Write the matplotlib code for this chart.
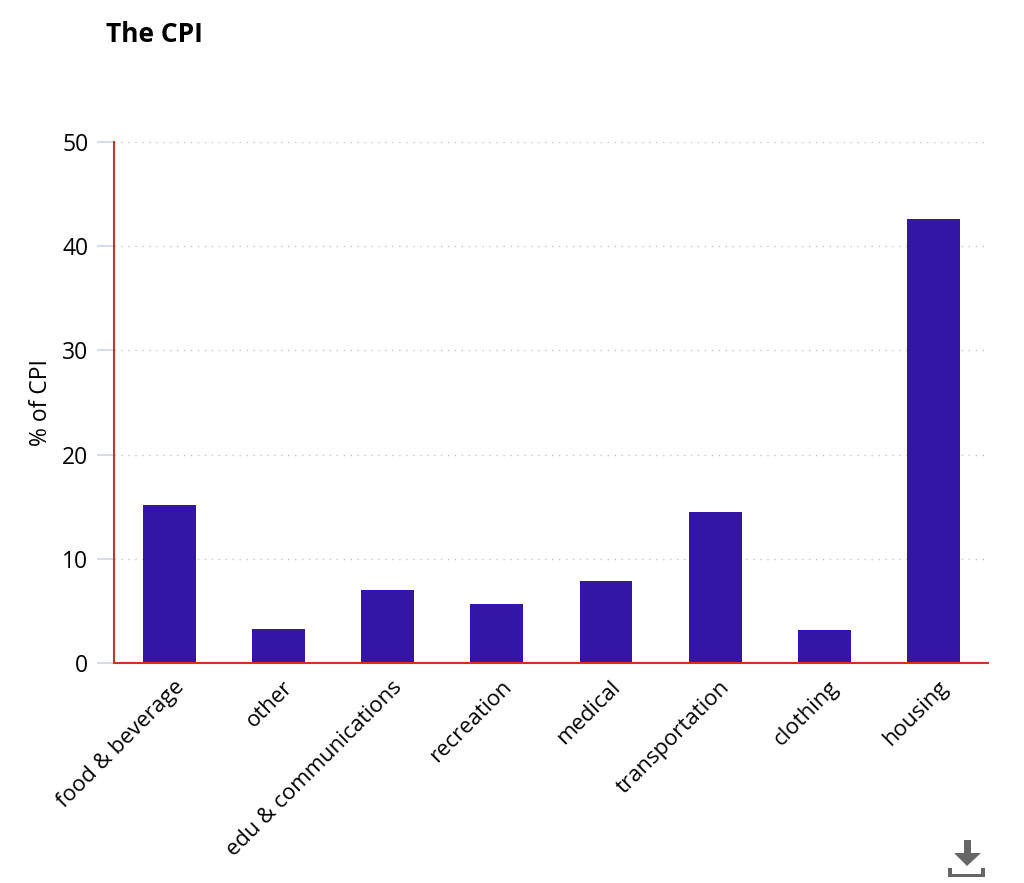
import matplotlib
matplotlib.use("Agg")
import matplotlib.pyplot as plt
from matplotlib.patches import Polygon
from matplotlib.transforms import ScaledTranslation

plt.rcParams["font.family"] = ["Open Sans", "DejaVu Sans"]

# 차트 데이터
categories = ["food & beverage", "other", "edu & communications", "recreation",
              "medical", "transportation", "clothing", "housing"]
cpi_share = [15.2, 3.3, 7.0, 5.7, 7.9, 14.5, 3.2, 42.6]
y_ticks = [0, 10, 20, 30, 40, 50]

W, H = 1024, 883
fig = plt.figure(figsize=(W / 100, H / 100), dpi=100)
ax = fig.add_axes([114 / W, 1 - 663 / H, (988 - 114) / W, (663 - 142) / H])

# 막대
ax.bar(range(len(categories)), cpi_share, width=0.485, color="#3316a8", zorder=2)
ax.set_xlim(-0.5085, 7.5)
ax.set_ylim(0, 50)

# 축과 그리드
ax.set_yticks(y_ticks)
ax.set_xticks(range(len(categories)))
ax.set_xticklabels(categories, rotation=45, ha="right", rotation_mode="anchor",
                   fontsize=15.9, color="#000000")
ax.tick_params(axis="x", length=0, pad=10)
ax.tick_params(axis="y", length=12, width=1.2, color="#ccd6eb", pad=6.5,
               labelsize=16.5, labelcolor="#000000")
for label in ax.get_xticklabels():
    label.set_transform(label.get_transform()
                        + ScaledTranslation(3 / 72, 0, fig.dpi_scale_trans))
ax.grid(axis="y", color="#c4c4c4", linestyle=(0, (1, 4)), linewidth=1, zorder=0)
ax.set_axisbelow(True)
for side in ["top", "right"]:
    ax.spines[side].set_visible(False)
for side in ["left", "bottom"]:
    ax.spines[side].set_color("#c8361c")
    ax.spines[side].set_linewidth(1.5)
ax.set_ylabel("% of CPI", fontsize=16.5, color="#000000", labelpad=6.4)

# 제목
fig.text(106 / W, 1 - 34 / H, "The CPI", fontsize=19, fontweight="bold",
         color="black", va="center", ha="left")

# 다운로드 아이콘
icon = "#666666"
arrow = [(964, 840), (971, 840), (971, 853), (981, 853), (967, 866), (954, 853), (964, 853)]
fig.add_artist(Polygon([(x / W, 1 - y / H) for x, y in arrow], closed=True,
                       transform=fig.transFigure, color=icon, lw=0))
tray = [(948, 868), (952, 868), (952, 874), (981, 874), (981, 868), (985, 868),
        (985, 877), (948, 877)]
fig.add_artist(Polygon([(x / W, 1 - y / H) for x, y in tray], closed=True,
                       transform=fig.transFigure, color=icon, lw=0))

fig.savefig("out.png", dpi=100)
